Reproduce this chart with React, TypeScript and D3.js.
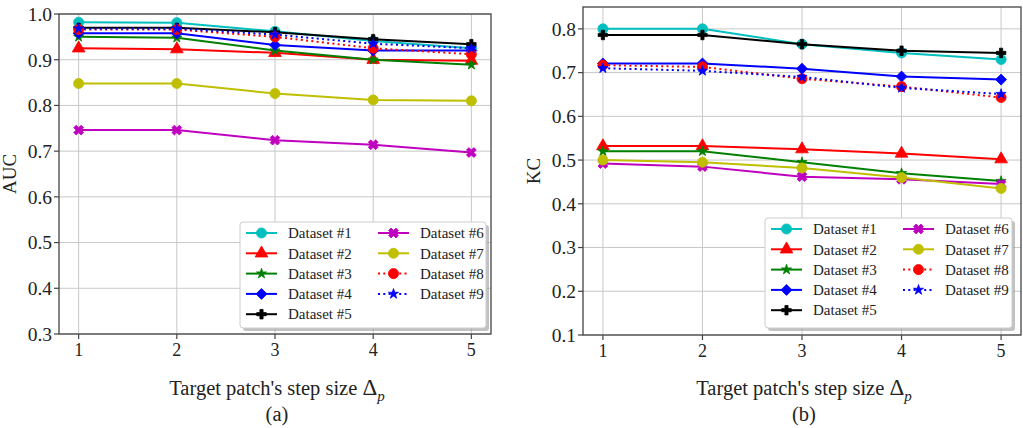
import React from "react";
import * as d3 from "d3";

const steps = [1, 2, 3, 4, 5];
const names = ["Dataset #1", "Dataset #2", "Dataset #3", "Dataset #4", "Dataset #5", "Dataset #6", "Dataset #7", "Dataset #8", "Dataset #9"];
const colors = ["#00bfbf", "#ff0000", "#008000", "#0000ff", "#000000", "#bf00bf", "#bfbf00", "#ff0000", "#0000ff"];
const markers = ["circle", "triangle", "star", "diamond", "plus", "x", "circle", "circle", "star"];
const dotted = [false, false, false, false, false, false, false, true, true];

const auc1 = [0.982, 0.981, 0.962, 0.941, 0.925];
const auc2 = [0.925, 0.923, 0.915, 0.900, 0.898];
const auc3 = [0.950, 0.948, 0.920, 0.900, 0.889];
const auc4 = [0.958, 0.958, 0.932, 0.920, 0.920];
const auc5 = [0.970, 0.970, 0.960, 0.945, 0.934];
const auc6 = [0.746, 0.746, 0.724, 0.714, 0.697];
const auc7 = [0.848, 0.848, 0.826, 0.812, 0.810];
const auc8 = [0.966, 0.966, 0.950, 0.925, 0.912];
const auc9 = [0.968, 0.968, 0.955, 0.935, 0.925];

const kc1 = [0.800, 0.800, 0.765, 0.745, 0.730];
const kc2 = [0.532, 0.532, 0.525, 0.515, 0.502];
const kc3 = [0.520, 0.520, 0.495, 0.470, 0.452];
const kc4 = [0.721, 0.721, 0.709, 0.691, 0.684];
const kc5 = [0.786, 0.786, 0.765, 0.750, 0.745];
const kc6 = [0.492, 0.485, 0.462, 0.456, 0.445];
const kc7 = [0.500, 0.495, 0.482, 0.460, 0.435];
const kc8 = [0.717, 0.713, 0.686, 0.668, 0.643];
const kc9 = [0.710, 0.704, 0.690, 0.665, 0.651];

const aucTicks = [0.3, 0.4, 0.5, 0.6, 0.7, 0.8, 0.9, 1.0];
const kcTicks = [0.1, 0.2, 0.3, 0.4, 0.5, 0.6, 0.7, 0.8];

const FONT = "'Liberation Serif', 'DejaVu Serif', serif";

function symbolPath(kind: string): { d: string; rot: number } {
  const s = d3.symbol();
  switch (kind) {
    case "circle": return { d: s.type(d3.symbolCircle).size(80)()!, rot: 0 };
    case "triangle": return { d: s.type(d3.symbolTriangle).size(70)()!, rot: 0 };
    case "star": return { d: s.type(d3.symbolStar).size(32)()!, rot: 0 };
    case "diamond": return { d: s.type(d3.symbolSquare).size(60)()!, rot: 45 };
    case "plus": return { d: s.type(d3.symbolCross).size(50)()!, rot: 0 };
    case "x": return { d: s.type(d3.symbolCross).size(60)()!, rot: 45 };
  }
  return { d: s.type(d3.symbolCircle).size(80)()!, rot: 0 };
}

function Marker({ x, y, i }: { x: number; y: number; i: number }) {
  const { d, rot } = symbolPath(markers[i]);
  return <path d={d} transform={`translate(${x},${y}) rotate(${rot})`} fill={colors[i]} stroke={colors[i]} strokeWidth={0.8} />;
}

interface PanelProps {
  series: number[][];
  ticks: number[];
  yDomain: [number, number];
  left: number; right: number; top: number; bottom: number;
  yLabel: string; yLabelX: number;
  caption: string;
  legendX: number; legendY: number; legendW: number; legendH: number;
}

function Panel(p: PanelProps) {
  const x = d3.scaleLinear().domain([0.8, 5.2]).range([p.left, p.right]);
  const y = d3.scaleLinear().domain(p.yDomain).range([p.bottom, p.top]);
  const line = d3.line<number>().x((_, k) => x(steps[k])).y((v) => y(v));
  const cx = (p.left + p.right) / 2 + 2;
  const rowH = 20.3;
  return (
    <g fontFamily={FONT}>
      {steps.map((s) => (
        <line key={"gx" + s} x1={x(s)} x2={x(s)} y1={p.top} y2={p.bottom} stroke="#c8c8c8" strokeWidth={1} />
      ))}
      {p.ticks.map((t) => (
        <line key={"gy" + t} x1={p.left} x2={p.right} y1={y(t)} y2={y(t)} stroke="#c8c8c8" strokeWidth={1} />
      ))}
      {p.series.map((vals, i) => (
        <g key={"s" + i}>
          <path d={line(vals)!} fill="none" stroke={colors[i]} strokeWidth={2}
            strokeDasharray={dotted[i] ? "2,3.3" : undefined} />
          {vals.map((v, k) => <Marker key={k} x={x(steps[k])} y={y(v)} i={i} />)}
        </g>
      ))}
      <rect x={p.left} y={p.top} width={p.right - p.left} height={p.bottom - p.top} fill="none" stroke="#444" strokeWidth={1.3} />
      {steps.map((s) => (
        <g key={"tx" + s}>
          <line x1={x(s)} x2={x(s)} y1={p.bottom} y2={p.bottom + 5} stroke="#444" strokeWidth={1.2} />
          <text x={x(s)} y={p.bottom + 22} textAnchor="middle" fontSize={18} fill="#222">{s}</text>
        </g>
      ))}
      {p.ticks.map((t) => (
        <g key={"ty" + t}>
          <line x1={p.left - 5} x2={p.left} y1={y(t)} y2={y(t)} stroke="#444" strokeWidth={1.2} />
          <text x={p.left - 7} y={y(t)} dy="0.35em" textAnchor="end" fontSize={19.5} fill="#222">{t.toFixed(1)}</text>
        </g>
      ))}
      <text transform={`translate(${p.yLabelX},${(p.top + p.bottom) / 2}) rotate(-90)`} textAnchor="middle" fontSize={19} fill="#222">{p.yLabel}</text>
      <text x={cx} y={395} textAnchor="middle" fontSize={20.5} fill="#222">
        Target patch's step size <tspan fontSize={23}>Δ</tspan><tspan fontStyle="italic" fontSize={15} dy={6}>p</tspan>
      </text>
      <text x={cx} y={421} textAnchor="middle" fontSize={20.5} fill="#222">{p.caption}</text>
      <rect x={p.legendX + 3} y={p.legendY + 3} width={p.legendW} height={p.legendH} rx={3} fill="#9a9a9a" opacity={0.6} />
      <rect x={p.legendX} y={p.legendY} width={p.legendW} height={p.legendH} rx={3} fill="#fff" stroke="#cccccc" strokeWidth={1} />
      {names.map((n, i) => {
        const col = i < 5 ? 0 : 1;
        const row = i < 5 ? i : i - 5;
        const lx = p.legendX + 6 + col * 132;
        const ly = p.legendY + 11 + row * rowH;
        return (
          <g key={"l" + i}>
            <line x1={lx} x2={lx + 31} y1={ly} y2={ly} stroke={colors[i]} strokeWidth={2} strokeDasharray={dotted[i] ? "2,3.3" : undefined} />
            <Marker x={lx + 15.5} y={ly} i={i} />
            <text x={lx + 42} y={ly} dy="0.35em" fontSize={15} fill="#222">{n}</text>
          </g>
        );
      })}
    </g>
  );
}

export default function App() {
  const aucSeries = [auc1, auc2, auc3, auc4, auc5, auc6, auc7, auc8, auc9];
  const kcSeries = [kc1, kc2, kc3, kc4, kc5, kc6, kc7, kc8, kc9];
  return (
    <svg width={1023} height={428} style={{ position: "absolute", left: 0, top: 0, background: "#fff" }}>
      <rect x={0} y={0} width={1023} height={428} fill="#fff" />
      <Panel series={aucSeries} ticks={aucTicks} yDomain={[0.3, 1.0]}
        left={59} right={491} top={14} bottom={334}
        yLabel="AUC" yLabelX={16} caption="(a)"
        legendX={240} legendY={222} legendW={246} legendH={106} />
      <Panel series={kcSeries} ticks={kcTicks} yDomain={[0.1, 0.85]}
        left={583} right={1021} top={7} bottom={335}
        yLabel="KC" yLabelX={540} caption="(b)"
        legendX={765} legendY={218} legendW={247} legendH={110} />
    </svg>
  );
}
